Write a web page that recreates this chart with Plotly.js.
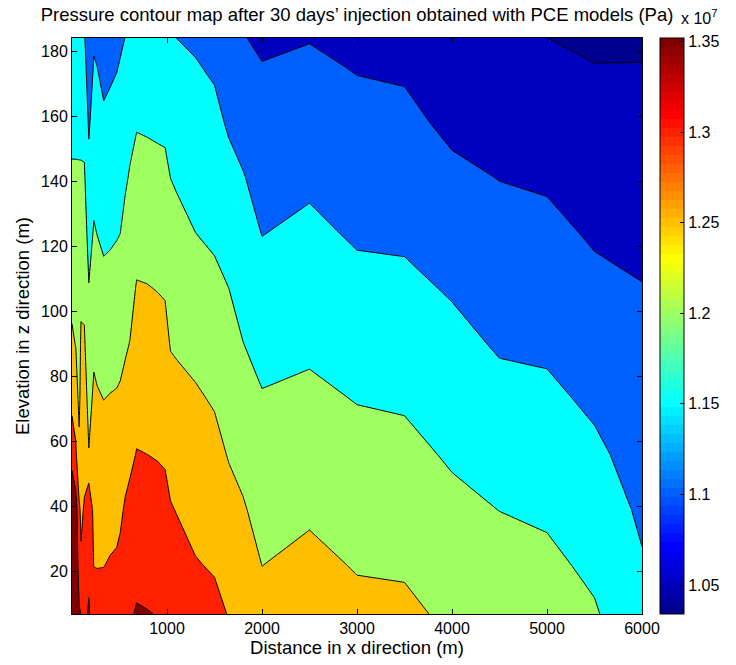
<!DOCTYPE html>
<html>
<head>
<meta charset="utf-8">
<script src="https://cdn.plot.ly/plotly-3.0.1.min.js"></script>
<style>
html, body { margin: 0; padding: 0; background: #ffffff; }
#chart { width: 736px; height: 665px; }
</style>
</head>
<body>
<div id="chart"></div>
<script>
// Distance in x direction (m) of each grid column
const distanceX = [0, 40, 75, 95, 130, 177, 230, 264, 334, 400, 470, 508, 560, 610, 680, 790, 900, 980, 1037, 1100, 1300, 1500, 1650, 1800, 2000, 2500, 3000, 3500, 4000, 4500, 5000, 5500, 6000];
// Elevation in z direction (m) of each grid row
const elevationZ = [7, 22, 39, 56, 73, 90, 107, 124, 141, 158, 175, 184];
// Pressure (x 10^7 Pa), one list per column (bottom row first)
const pressureByColumn = [
  [1.42, 1.41, 1.40, 1.33, 1.2872, 1.2571, 1.2377, 1.2216, 1.2055, 1.1894, 1.1733, 1.1648],
  [1.39, 1.38, 1.3731, 1.3077, 1.275, 1.2483, 1.2338, 1.2193, 1.2049, 1.1904, 1.1759, 1.1682],
  [1.3543, 1.3329, 1.3086, 1.262, 1.238, 1.2339, 1.2237, 1.2135, 1.2033, 1.1932, 1.1830, 1.1776],
  [1.349, 1.306, 1.2921, 1.2800, 1.2680, 1.2560, 1.2411, 1.2234, 1.2057, 1.188, 1.1703, 1.1610],
  [1.345, 1.3257, 1.3039, 1.287, 1.2713, 1.2556, 1.2391, 1.2223, 1.2054, 1.1862, 1.1658, 1.155],
  [1.352, 1.346, 1.345, 1.252, 1.2354, 1.2187, 1.2020, 1.1829, 1.1636, 1.1442, 1.1248, 1.1146],
  [1.34, 1.2985, 1.2849, 1.2714, 1.2578, 1.2419, 1.2229, 1.2039, 1.1868, 1.1701, 1.1534, 1.1446],
  [1.318, 1.2987, 1.2839, 1.2691, 1.2543, 1.2368, 1.2181, 1.1994, 1.1831, 1.1667, 1.1503, 1.1416],
  [1.318, 1.2992, 1.2827, 1.2662, 1.2497, 1.2301, 1.2112, 1.192, 1.1745, 1.1569, 1.1394, 1.1301],
  [1.32, 1.303, 1.286, 1.2691, 1.2521, 1.2327, 1.2130, 1.1943, 1.1774, 1.1606, 1.1438, 1.1349],
  [1.322, 1.3055, 1.2882, 1.2709, 1.2537, 1.2350, 1.2161, 1.1975, 1.1811, 1.1647, 1.1483, 1.1396],
  [1.325, 1.3107, 1.2925, 1.2743, 1.2562, 1.2375, 1.2188, 1.1999, 1.1843, 1.1685, 1.1528, 1.1444],
  [1.338, 1.3254, 1.3048, 1.2843, 1.2637, 1.2445, 1.2280, 1.2116, 1.1948, 1.1771, 1.1594, 1.1505],
  [1.345, 1.3316, 1.3115, 1.2914, 1.2713, 1.2512, 1.2352, 1.2194, 1.2037, 1.188, 1.1722, 1.1639],
  [1.3536, 1.3377, 1.3197, 1.3017, 1.2853, 1.2691, 1.2529, 1.2344, 1.2156, 1.1967, 1.1778, 1.1678],
  [1.3516, 1.3358, 1.3180, 1.3001, 1.2839, 1.2678, 1.2516, 1.2329, 1.2140, 1.195, 1.1760, 1.1660],
  [1.3488, 1.3332, 1.3154, 1.2979, 1.2816, 1.2653, 1.2489, 1.2303, 1.2117, 1.193, 1.1743, 1.1645],
  [1.345, 1.3298, 1.3124, 1.2954, 1.2792, 1.2630, 1.2464, 1.2282, 1.2099, 1.1918, 1.1736, 1.1640],
  [1.338, 1.3216, 1.3030, 1.2844, 1.2658, 1.2476, 1.2317, 1.2158, 1.1999, 1.1840, 1.1681, 1.1597],
  [1.3325, 1.3166, 1.2986, 1.2806, 1.2626, 1.2451, 1.2287, 1.2124, 1.1956, 1.1776, 1.1595, 1.1499],
  [1.318, 1.3026, 1.2869, 1.2711, 1.2554, 1.2377, 1.2190, 1.2002, 1.1844, 1.1686, 1.1528, 1.1444],
  [1.312, 1.2961, 1.2796, 1.2630, 1.2462, 1.2282, 1.2102, 1.193, 1.1769, 1.1609, 1.1448, 1.1363],
  [1.298, 1.2824, 1.2648, 1.2474, 1.2317, 1.2159, 1.2002, 1.1818, 1.1634, 1.1449, 1.1265, 1.1167],
  [1.2881, 1.2723, 1.2544, 1.2365, 1.2186, 1.2007, 1.1847, 1.1687, 1.1527, 1.1331, 1.1127, 1.1019],
  [1.2633, 1.2497, 1.2343, 1.2189, 1.2034, 1.1857, 1.1673, 1.149, 1.1332, 1.1174, 1.1017, 1.0933],
  [1.2762, 1.2610, 1.2437, 1.2265, 1.2092, 1.1923, 1.1758, 1.1592, 1.1423, 1.1248, 1.1074, 1.0982],
  [1.2613, 1.2471, 1.2309, 1.2147, 1.1984, 1.1802, 1.1620, 1.1447, 1.1290, 1.1133, 1.0977, 1.0894],
  [1.2594, 1.2449, 1.2283, 1.2118, 1.195, 1.1774, 1.1598, 1.1428, 1.1267, 1.1105, 1.0944, 1.0859],
  [1.2412, 1.2270, 1.2109, 1.1948, 1.1787, 1.1626, 1.146, 1.1276, 1.1092, 1.0908, 1.0724, 1.0627],
  [1.2339, 1.2177, 1.1995, 1.1812, 1.1629, 1.1455, 1.13, 1.1145, 1.0991, 1.0836, 1.0682, 1.06],
  [1.225, 1.21, 1.193, 1.176, 1.159, 1.1426, 1.1267, 1.1109, 1.0945, 1.0769, 1.0593, 1.0501],
  [1.2047, 1.1906, 1.1745, 1.1585, 1.1425, 1.1264, 1.1104, 1.0949, 1.0803, 1.0657, 1.0511, 1.0434],
  [1.1627, 1.1535, 1.1431, 1.1327, 1.1223, 1.1121, 1.1015, 1.0894, 1.0769, 1.0645, 1.052, 1.040]
];
// Contour levels and colour axis
const contourLevels = [1.05, 1.10, 1.15, 1.20, 1.25, 1.30, 1.35];
const colorAxisRange = [1.034, 1.352];
const colorbarTicks = [1.05, 1.1, 1.15, 1.2, 1.25, 1.3, 1.35];
const colorbarTickLabels = ['1.05', '1.1', '1.15', '1.2', '1.25', '1.3', '1.35'];
const xTicks = [1000, 2000, 3000, 4000, 5000, 6000];
const yTicks = [20, 40, 60, 80, 100, 120, 140, 160, 180];

// z table (rows = elevation, columns = distance)
const zTable = elevationZ.map((_, r) => pressureByColumn.map(col => col[r]));

// MATLAB jet(64)
function jet64(i) {
  const m = i + 1;
  const u = k => (k < 1 || k > 47) ? 0 : (k <= 16 ? k / 16 : (k <= 31 ? 1 : (48 - k) / 16));
  const r = u(m - 24), g = u(m - 8), b = u(m + 8);
  return 'rgb(' + Math.round(r * 255) + ',' + Math.round(g * 255) + ',' + Math.round(b * 255) + ')';
}
const cmin = colorAxisRange[0], cmax = colorAxisRange[1];
function idxFor(v) { return Math.max(0, Math.min(63, Math.floor((v - cmin) / (cmax - cmin) * 64))); }

// stepped 64-colour scale for the colour bar
const jetScale = [];
for (let i = 0; i < 64; i++) {
  const c = jet64(i);
  jetScale.push([i / 64, c]);
  jetScale.push([(i + 1) / 64, c]);
}
// band colours: region below the first level uses cmin, others the level value
const bandValues = [cmin].concat(contourLevels);
const nb = bandValues.length; // 8 bands
const bandScale = [];
bandValues.forEach((v, k) => {
  const c = jet64(idxFor(v));
  const lo = k === 0 ? 0 : (2 * k - 1) / (2 * (nb - 1));
  const hi = k === nb - 1 ? 1 : (2 * k + 1) / (2 * (nb - 1));
  bandScale.push([lo, c]);
  bandScale.push([hi, c]);
});
const step = contourLevels[1] - contourLevels[0];

const contourTrace = {
  type: 'contour',
  x: distanceX,
  y: elevationZ,
  z: zTable,
  autocontour: false,
  contours: { start: contourLevels[0], end: contourLevels[contourLevels.length - 1], size: step, coloring: 'fill', showlines: true },
  line: { color: '#000000', width: 1, smoothing: 0 },
  colorscale: bandScale,
  zauto: false,
  zmin: contourLevels[0] - step / 2,
  zmax: contourLevels[contourLevels.length - 1] + step / 2,
  showscale: false,
  hoverinfo: 'skip'
};

const colorbarTrace = {
  type: 'scatter',
  mode: 'markers',
  x: [-1000, -1000],
  y: [-100, -100],
  hoverinfo: 'skip',
  showlegend: false,
  marker: {
    size: 1,
    opacity: 0,
    color: colorAxisRange,
    cmin: cmin,
    cmax: cmax,
    colorscale: jetScale,
    showscale: true,
    colorbar: {
      x: (665 - 72) / 575,
      xanchor: 'left',
      xpad: 0,
      y: 0.5,
      yanchor: 'middle',
      ypad: 0,
      len: 1,
      lenmode: 'fraction',
      thickness: 24,
      thicknessmode: 'pixels',
      outlinewidth: 1,
      outlinecolor: '#000000',
      tickmode: 'array',
      tickvals: colorbarTicks,
      ticktext: colorbarTickLabels,
      ticks: 'inside',
      ticklen: 4,
      tickcolor: '#000000',
      tickfont: { size: 16, color: '#000000' }
    }
  }
};

const axisCommon = {
  showline: true, linecolor: '#000000', linewidth: 1, mirror: 'ticks',
  ticks: 'inside', ticklen: 5, tickcolor: '#000000', tickwidth: 1,
  showgrid: false, zeroline: false, tickfont: { size: 16, color: '#000000' },
  fixedrange: true
};

const layout = {
  width: 736,
  height: 665,
  margin: { l: 72, r: 89, t: 38, b: 51, pad: 0 },
  paper_bgcolor: '#ffffff',
  plot_bgcolor: '#ffffff',
  font: { family: '"Liberation Sans", Arial, Helvetica, sans-serif', size: 16, color: '#000000' },
  showlegend: false,
  title: {
    text: 'Pressure contour map after 30 days\u2019 injection obtained with PCE models (Pa)',
    x: 0.5, xref: 'paper', xanchor: 'center',
    y: 1 - 15 / 665, yref: 'container', yanchor: 'middle',
    font: { size: 18.5, color: '#000000' }
  },
  xaxis: Object.assign({}, axisCommon, {
    range: [distanceX[0], distanceX[distanceX.length - 1]],
    tickmode: 'array', tickvals: xTicks, ticktext: xTicks.map(String),
    title: { text: 'Distance in x direction (m)', font: { size: 18.5 }, standoff: 2 }
  }),
  yaxis: Object.assign({}, axisCommon, {
    range: [elevationZ[0], elevationZ[elevationZ.length - 1]],
    tickmode: 'array', tickvals: yTicks, ticktext: yTicks.map(String),
    title: { text: 'Elevation in z direction (m)', font: { size: 18.5 }, standoff: 6 }
  }),
  annotations: [{
    text: 'x 10<sup>7</sup>',
    xref: 'paper', yref: 'paper',
    x: (684 - 72) / 575, y: 1,
    xanchor: 'left', yanchor: 'bottom',
    yshift: 9,
    showarrow: false,
    font: { size: 16, color: '#000000' }
  }]
};

Plotly.newPlot('chart', [contourTrace, colorbarTrace], layout, { displayModeBar: false, staticPlot: true });
</script>
</body>
</html>
